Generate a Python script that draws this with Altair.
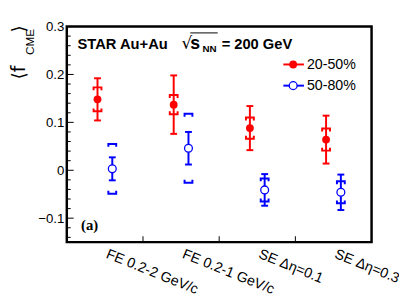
import json
import altair as alt
import pandas as pd

# ---- data ----
categories = ["FE 0.2-2 GeV/c", "FE 0.2-1 GeV/c", "SE Δη=0.1", "SE Δη=0.3"]
series = ["20-50%", "50-80%"]
colors = ["#ff0000", "#0000ff"]

red_val = [0.148, 0.137, 0.088, 0.064]
red_stat = [0.044, 0.061, 0.046, 0.050]
red_sys = [0.025, 0.020, 0.022, 0.023]

blue_val = [0.003, 0.046, -0.041, -0.046]
blue_stat = [0.024, 0.034, 0.033, 0.037]
blue_sys = [0.052, 0.072, 0.024, 0.023]

y_major = [-0.1, 0.0, 0.1, 0.2, 0.3]
y_minor = [-0.14, -0.12, -0.08, -0.06, -0.04, -0.02, 0.02, 0.04, 0.06, 0.08,
           0.12, 0.14, 0.16, 0.18, 0.22, 0.24, 0.26, 0.28]
x_ticks = [0.5, 1.5, 2.5]

offsets = [-0.097, 0.097]

rows = []
for s, (vals, stats, syss) in enumerate([(red_val, red_stat, red_sys),
                                         (blue_val, blue_stat, blue_sys)]):
    for j in range(len(categories)):
        rows.append(dict(series=series[s], xi=j + offsets[s], val=vals[j],
                         stat=stats[j], sys=syss[j]))
df = pd.DataFrame(rows)

W, H = 311, 220
XD = [-0.5, 3.5]
YD = [-0.15, 0.3]

xs = alt.Scale(domain=XD, nice=False, zero=False)
ys = alt.Scale(domain=YD, nice=False, zero=False)
cs = alt.Scale(domain=series, range=colors)

cat_expr = json.dumps(categories, ensure_ascii=False) + "[datum.value]"

base = alt.Chart(df).transform_calculate(
    lo="datum.val - datum.stat", hi="datum.val + datum.stat",
    slo="datum.val - datum.sys", shi="datum.val + datum.sys")

x_enc = alt.X("xi:Q", scale=xs, axis=alt.Axis(
    values=[0, 1, 2, 3], labelExpr=cat_expr, tickSize=0, domain=False, grid=False,
    labelAngle=22, labelAlign="left", labelBaseline="top", labelPadding=5, labelOffset=4,
    labelFontSize=14.5, labelFont="Liberation Sans", labelColor="black",
    title=None, labelOverlap=False, labelBound=False, labelFlush=False))

y_axis = alt.Axis(values=y_major, tickSize=0, domain=False, grid=False,
                  labelExpr="datum.value == 0 ? '0' : replace(format(datum.value, '.1f'), '-', '\u2212')",
                  labelPadding=3, labelFontSize=13.5, labelFont="Liberation Sans",
                  labelColor="black", title=None)

color_enc = alt.Color("series:N", scale=cs, legend=None)

# zero dashed line
zero = alt.Chart(pd.DataFrame({"y": [0.0]})).mark_rule(
    color="#7f7fff", strokeDash=[12, 5], strokeWidth=1.2).encode(
    y=alt.Y("y:Q", scale=ys, axis=y_axis))

# stat error bars
stat_line = base.mark_rule(strokeWidth=2).encode(
    x=x_enc, y=alt.Y("lo:Q", scale=ys), y2="hi:Q", color=color_enc)
cap_path = "M -1 0 L 1 0"
stat_top = base.mark_point(shape=cap_path, size=49, strokeWidth=2, filled=False, opacity=1).encode(
    x=alt.X("xi:Q", scale=xs), y=alt.Y("hi:Q", scale=ys), color=color_enc)
stat_bot = base.mark_point(shape=cap_path, size=49, strokeWidth=2, filled=False, opacity=1).encode(
    x=alt.X("xi:Q", scale=xs), y=alt.Y("lo:Q", scale=ys), color=color_enc)

# systematic brackets
top_br = "M -1 0.75 L -1 0 L 1 0 L 1 0.75"
bot_br = "M -1 -0.75 L -1 0 L 1 0 L 1 -0.75"
sys_top = base.mark_point(shape=top_br, size=64, strokeWidth=2, filled=False, opacity=1).encode(
    x=alt.X("xi:Q", scale=xs), y=alt.Y("shi:Q", scale=ys), color=color_enc)
sys_bot = base.mark_point(shape=bot_br, size=64, strokeWidth=2, filled=False, opacity=1).encode(
    x=alt.X("xi:Q", scale=xs), y=alt.Y("slo:Q", scale=ys), color=color_enc)

# markers
red_pts = alt.Chart(df[df.series == series[0]]).mark_point(
    shape="circle", size=64, filled=True, color=colors[0], opacity=1).encode(
    x=alt.X("xi:Q", scale=xs), y=alt.Y("val:Q", scale=ys))
blue_pts = alt.Chart(df[df.series == series[1]]).mark_point(
    shape="circle", size=64, filled=False, fill="white", fillOpacity=1,
    stroke=colors[1], strokeWidth=1.3, opacity=1).encode(
    x=alt.X("xi:Q", scale=xs), y=alt.Y("val:Q", scale=ys))

# inner ticks
maj = alt.Chart(pd.DataFrame({"t": y_major})).mark_rule(color="black", strokeWidth=1).encode(
    y=alt.Y("t:Q", scale=ys), x=alt.value(0), x2=alt.value(7))
mino = alt.Chart(pd.DataFrame({"t": y_minor})).mark_rule(color="black", strokeWidth=1).encode(
    y=alt.Y("t:Q", scale=ys), x=alt.value(0), x2=alt.value(4))
xt = alt.Chart(pd.DataFrame({"t": x_ticks})).mark_rule(color="black", strokeWidth=1).encode(
    x=alt.X("t:Q", scale=xs), y=alt.value(H), y2=alt.value(H - 6))

one = pd.DataFrame({"a": [0]})
frame = alt.Chart(one).mark_rect(fill=None, fillOpacity=0, stroke="black", strokeWidth=2.5).encode(
    x=alt.value(0), x2=alt.value(W), y=alt.value(0), y2=alt.value(H))

# legend (drawn by hand)
legend_layers = []
leg_y = [38.7, 60.3]
for i, name in enumerate(series):
    ldf = pd.DataFrame({"name": [name]})
    legend_layers.append(alt.Chart(ldf).mark_rule(color=colors[i], strokeWidth=2).encode(
        x=alt.value(221), x2=alt.value(242), y=alt.value(leg_y[i])))
    if i == 0:
        legend_layers.append(alt.Chart(ldf).mark_point(shape="circle", size=64, filled=True,
                                                       color=colors[i], opacity=1).encode(
            x=alt.value(231), y=alt.value(leg_y[i])))
    else:
        legend_layers.append(alt.Chart(ldf).mark_point(shape="circle", size=64, filled=False,
                                                       fill="white", fillOpacity=1, stroke=colors[i],
                                                       strokeWidth=1.3, opacity=1).encode(
            x=alt.value(231), y=alt.value(leg_y[i])))
    legend_layers.append(alt.Chart(ldf).mark_text(align="left", baseline="middle", fontSize=14.5,
                                                  font="Liberation Sans", color="black").encode(
        x=alt.value(245), y=alt.value(leg_y[i] + 0.5), text="name:N"))

def txt(t, x, y, size, bold=True, font="Liberation Sans", angle=None):
    kw = dict(align="left", baseline="alphabetic", fontSize=size, font=font,
              fontWeight="bold" if bold else "normal", color="black", text=t)
    if angle is not None:
        kw["angle"] = angle
    return alt.Chart(one).mark_text(**kw).encode(x=alt.value(x), y=alt.value(y))

header = [
    txt("STAR Au+Au", 11, 22.5, 15),
    txt("√", 117, 23, 17, bold=False, font="DejaVu Sans"),
    txt("s", 126, 22.5, 18),
    txt("NN", 138.5, 25.5, 10),
    alt.Chart(one).mark_rule(color="black", strokeWidth=1).encode(
        x=alt.value(126), x2=alt.value(154), y=alt.value(6.5)),
    txt("= 200 GeV", 158, 22.5, 15),
    txt("(a)", 14.5, 207.5, 15, font="Liberation Serif"),
    # y title
    txt("⟨f", -43, 54, 19, bold=False, font="DejaVu Sans", angle=270),
    txt("CME", -33.5, 29, 12, bold=False, angle=270),
    txt("⟩", -43, 6, 19, bold=False, font="DejaVu Sans", angle=270),
]

chart = alt.layer(
    zero, stat_line, stat_top, stat_bot, sys_top, sys_bot, red_pts, blue_pts,
    maj, mino, xt, frame, *legend_layers, *header
).encode(x=x_enc).properties(
    width=W, height=H,
    autosize=alt.AutoSizeParams(type="none"),
    padding={"left": 60, "top": 16, "right": 28, "bottom": 50},
).configure_view(stroke=None).configure(background="white")

chart.save("out.html", embed_options={"renderer": "svg", "actions": False})
